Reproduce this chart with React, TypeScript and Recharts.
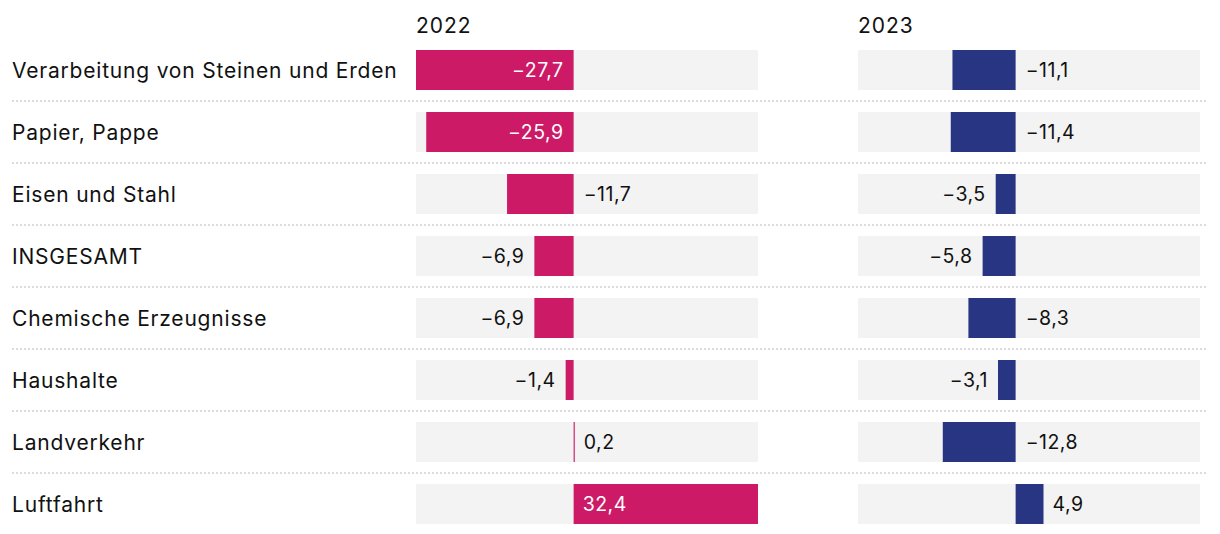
import React from "react"
import { BarChart, Bar, XAxis, YAxis, LabelList } from "recharts"

const categories = [
  "Verarbeitung von Steinen und Erden",
  "Papier, Pappe",
  "Eisen und Stahl",
  "INSGESAMT",
  "Chemische Erzeugnisse",
  "Haushalte",
  "Landverkehr",
  "Luftfahrt",
]

const values2022 = [-27.7, -25.9, -11.7, -6.9, -6.9, -1.4, 0.2, 32.4]
const values2023 = [-11.1, -11.4, -3.5, -5.8, -8.3, -3.1, -12.8, 4.9]

const years = ["2022", "2023"]

const MAGENTA = "#cc1a66"
const NAVY = "#283583"
const BAND = "#f3f3f3"
const DOTS = "#dcdcdc"
const FONT = "Inter, 'Liberation Sans', Arial, sans-serif"

const ROW = 62

const allValues = [...values2022, ...values2023]
const domain: [number, number] = [Math.min(...allValues), Math.max(...allValues)]

const data = categories.map((name, i) => ({
  name,
  v2022: values2022[i],
  v2023: values2023[i],
}))

const fmt = (v: number) => v.toFixed(1).replace(".", ",").replace("-", "\u2212")

function ValueLabel(props: any) {
  const { x, y, width, height, value } = props
  const left = Math.min(x, x + width)
  const right = Math.max(x, x + width)
  const zero = value < 0 ? right : left
  const cy = y + height / 2
  const abs = Math.abs(value)
  let tx = 0
  let anchor: "start" | "end" = "start"
  let fill = "#111"
  if (abs >= 20) {
    fill = "#fff"
    if (value < 0) {
      tx = zero - 10
      anchor = "end"
    } else {
      tx = zero + 9
    }
  } else if (value < 0 && abs >= 8) {
    tx = zero + 10
  } else if (value < 0) {
    tx = left - 10
    anchor = "end"
  } else {
    tx = right + 9
  }
  return (
    <text
      x={tx}
      y={cy}
      textAnchor={anchor}
      dominantBaseline="central"
      fill={fill}
      fontSize={19.5}
      fontFamily={FONT}
      letterSpacing={0.5}
    >
      {fmt(value)}
    </text>
  )
}

function NameTick(props: any) {
  const { y, payload, index } = props
  return (
    <g>
      <text
        x={12}
        y={y}
        dominantBaseline="central"
        fill="#111"
        fontSize={21}
        fontFamily={FONT}
        letterSpacing={0.8}
      >
        {payload.value}
      </text>
      {index < categories.length - 1 && (
        <line
          x1={12}
          x2={820}
          y1={y + ROW / 2}
          y2={y + ROW / 2}
          stroke={DOTS}
          strokeWidth={2}
          strokeDasharray="2 2"
        />
      )}
    </g>
  )
}

function SepTick(props: any) {
  const { y, index } = props
  if (index >= categories.length - 1) return <g />
  return (
    <line
      x1={0}
      x2={388}
      y1={y + ROW / 2}
      y2={y + ROW / 2}
      stroke={DOTS}
      strokeWidth={2}
      strokeDasharray="2 2"
    />
  )
}

const yearStyle: React.CSSProperties = {
  position: "absolute",
  top: 14,
  fontSize: 21,
  lineHeight: "24px",
  fontFamily: FONT,
  letterSpacing: 1,
  color: "#111",
}

export default function App() {
  return (
    <div
      style={{
        position: "absolute",
        left: 0,
        top: 0,
        width: 1220,
        height: 534,
        overflow: "hidden",
        background: "#fff",
      }}
    >
      <div style={{ ...yearStyle, left: 416 }}>{years[0]}</div>
      <div style={{ ...yearStyle, left: 858 }}>{years[1]}</div>

      <div style={{ position: "absolute", left: 0, top: 0 }}>
        <BarChart
          width={820}
          height={535}
          data={data}
          layout="vertical"
          margin={{ top: 39, right: 62, bottom: 0, left: 0 }}
        >
          <XAxis type="number" domain={domain} hide />
          <YAxis
            type="category"
            dataKey="name"
            width={416}
            axisLine={false}
            tickLine={false}
            tick={<NameTick />}
            interval={0}
          />
          <Bar
            dataKey="v2022"
            fill={MAGENTA}
            barSize={40}
            background={{ fill: BAND }}
            isAnimationActive={false}
          >
            <LabelList dataKey="v2022" content={<ValueLabel />} />
          </Bar>
        </BarChart>
      </div>

      <div style={{ position: "absolute", left: 820, top: 0 }}>
        <BarChart
          width={400}
          height={535}
          data={data}
          layout="vertical"
          margin={{ top: 39, right: 20, bottom: 0, left: 0 }}
        >
          <XAxis type="number" domain={domain} hide />
          <YAxis
            type="category"
            dataKey="name"
            width={38}
            axisLine={false}
            tickLine={false}
            tick={<SepTick />}
            interval={0}
          />
          <Bar
            dataKey="v2023"
            fill={NAVY}
            barSize={40}
            background={{ fill: BAND }}
            isAnimationActive={false}
          >
            <LabelList dataKey="v2023" content={<ValueLabel />} />
          </Bar>
        </BarChart>
      </div>
    </div>
  )
}
